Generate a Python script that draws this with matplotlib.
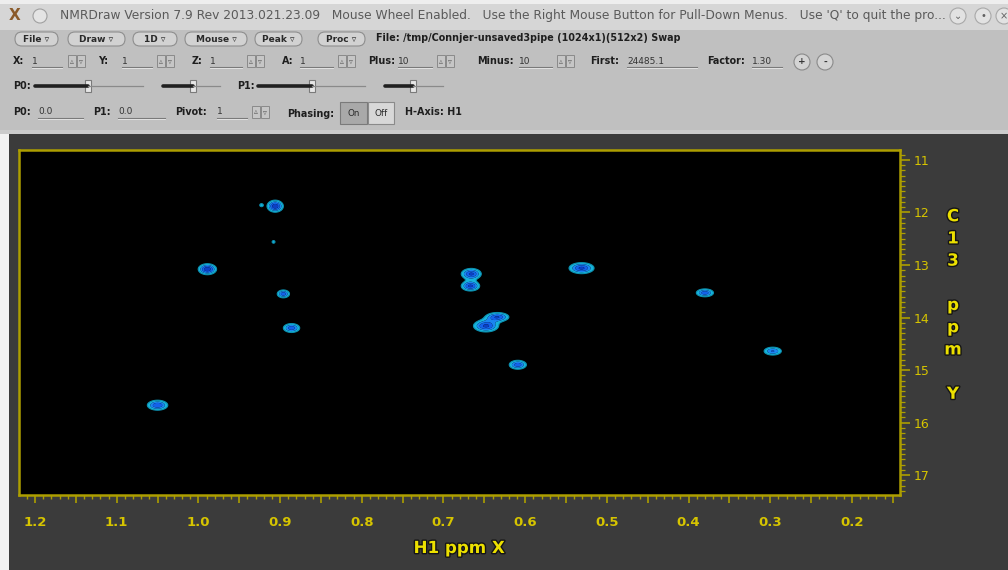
"""NMRDraw 截图复刻：H1-C13 二维谱（等高线）+ 工具栏外观。"""
import matplotlib
matplotlib.use("Agg")
import matplotlib.pyplot as plt  # noqa: E402
import matplotlib.patheffects as pe  # noqa: E402
import numpy as np  # noqa: E402
from matplotlib.patches import Rectangle, FancyBboxPatch, Circle  # noqa: E402
from matplotlib.ticker import MultipleLocator, FuncFormatter  # noqa: E402

W, H = 1008, 570

# --------------------------------------------------------------------------- #
# 峰表：H1 ppm, C13 ppm, 外圈宽度 (ppm), 相对强度
# --------------------------------------------------------------------------- #
peak_h1 = [0.906, 0.989, 0.896, 0.886, 1.050, 0.666, 0.667, 0.634, 0.648,
           0.609, 0.531, 0.380, 0.297, 0.923, 0.908]
peak_c13 = [11.88, 13.08, 13.55, 14.20, 15.67, 13.17, 13.40, 13.99, 14.16,
            14.90, 13.06, 13.53, 14.64, 11.86, 12.56]
peak_wh1 = [0.0200, 0.0225, 0.0150, 0.0200, 0.0250, 0.0245, 0.0225, 0.0280,
            0.0306, 0.0210, 0.0306, 0.0210, 0.0210, 0.0035, 0.0035]
peak_wc13 = [0.23, 0.21, 0.15, 0.17, 0.19, 0.21, 0.19, 0.17, 0.23,
             0.17, 0.21, 0.15, 0.15, 0.05, 0.05]
peak_amp = [1.0, 1.0, 0.8, 0.8, 0.85, 0.9, 0.9, 0.85, 0.9,
            0.8, 0.9, 0.8, 0.7, 0.4, 0.4]

x_ticks_major = 0.05
x_ticks_minor = 0.01
h1_lim = (1.2196, 0.1412)
c13_lim = (17.38, 10.81)

title_text = ("NMRDraw Version 7.9 Rev 2013.021.23.09   Mouse Wheel Enabled.   "
              "Use the Right Mouse Button for Pull-Down Menus.   Use 'Q' to quit the pro...")
menus = ["File", "Draw", "1D", "Mouse", "Peak", "Proc"]
file_text = "File: /tmp/Connjer-unsaved3pipe (1024x1)(512x2) Swap"

fig = plt.figure(figsize=(W / 100, H / 100), dpi=100)
bg = fig.add_axes([0, 0, 1, 1])
bg.set_xlim(0, W)
bg.set_ylim(H, 0)
bg.axis("off")

# 窗口底色
bg.add_patch(Rectangle((0, 0), W, 30, fc="#d6d6d6", ec="none"))
bg.add_patch(Rectangle((0, 0), W, 4, fc="#eeeeee", ec="none"))
bg.add_patch(Rectangle((0, 30), W, 101, fc="#c0c0c0", ec="none"))
bg.add_patch(Rectangle((0, 130), W, 5, fc="#cbcbcb", ec="none"))
bg.add_patch(Rectangle((0, 134), 9, H - 134, fc="#f2f2f2", ec="none"))
bg.add_patch(Rectangle((9, 134), W - 9, H - 134, fc="#3b3b3b", ec="none"))

# 标题栏
bg.text(15, 16, "X", color="#8a5a2a", fontsize=11, fontweight="bold",
        ha="center", va="center")
bg.add_patch(Circle((40, 16), 7, fc="#e4e4e4", ec="#a0a0a0", lw=0.8))
bg.text(60, 16, title_text, color="#5a5a5a", fontsize=8.8, va="center")
for cx, g in [(958, "⌄"), (983, "•"), (1004, "×")]:
    bg.add_patch(Circle((cx, 16), 8, fc="#e2e2e2", ec="#a8a8a8", lw=0.8))
    bg.text(cx, 16, g, color="#606060", fontsize=7, ha="center", va="center")


def label(x, y, s, **kw):
    bg.text(x, y, s, fontsize=6.9, fontweight="bold", color="#1e1e1e",
            va="center", **kw)


def field(x0, x1, y, s):
    bg.text(x0, y, s, fontsize=6.5, color="#333333", va="center")
    bg.plot([x0, x1], [y + 6, y + 6], color="#7a7a7a", lw=0.8)
    bg.plot([x0, x1], [y + 7, y + 7], color="#e8e8e8", lw=0.6)


def spin(x, y):
    for i, g in enumerate(["▵", "▿"]):
        bg.add_patch(Rectangle((x + i * 9, y - 6), 8, 12, fc="#c6c6c6",
                               ec="#8a8a8a", lw=0.7))
        bg.text(x + i * 9 + 4, y, g, fontsize=5.5, color="#606060",
                ha="center", va="center")


def slider(x0, xk, x1, y):
    bg.plot([x0, xk], [y, y], color="#202020", lw=2.6, solid_capstyle="round")
    bg.plot([xk, x1], [y, y], color="#8a8a8a", lw=0.9)
    bg.add_patch(Rectangle((xk - 3, y - 6), 6, 12, fc="#e6e6e6", ec="#7a7a7a",
                           lw=0.8))


# 第 1 行：菜单按钮
menu_x = [(15, 58), (68, 125), (133, 177), (185, 247), (255, 302), (318, 365)]
for (x0, x1), m in zip(menu_x, menus):
    bg.add_patch(FancyBboxPatch((x0, 32), x1 - x0, 14,
                                boxstyle="round,pad=0,rounding_size=7",
                                fc="#d2d2d2", ec="#8e8e8e", lw=0.8))
    bg.text((x0 + x1) / 2, 39, f"{m} ▿", fontsize=6.5, fontweight="bold",
            color="#2a2a2a", ha="center", va="center")
label(376, 38, file_text)

# 第 2 行
y2 = 61
row2 = [("X:", 13, 32, 62, "1", 68), ("Y:", 98, 122, 152, "1", 157),
        ("Z:", 192, 210, 242, "1", 247), ("A:", 282, 300, 333, "1", 338),
        ("Plus:", 368, 398, 432, "10", 437), ("Minus:", 477, 519, 552, "10", 557)]
for name, lx, fx0, fx1, val, sx in row2:
    label(lx, y2, name)
    field(fx0, fx1, y2, val)
    spin(sx, y2)
label(590, y2, "First:")
field(627, 697, y2, "24485.1")
label(707, y2, "Factor:")
field(752, 782, y2, "1.30")
for cx, g in [(802, "+"), (825, "-")]:
    bg.add_patch(Circle((cx, y2 + 1), 8, fc="#d4d4d4", ec="#8a8a8a", lw=0.8))
    bg.text(cx, y2 + 1, g, fontsize=6.5, fontweight="bold", color="#333333",
            ha="center", va="center")

# 第 3 行：相位滑块
y3 = 86
label(13, y3, "P0:")
slider(35, 88, 143, y3)
slider(163, 193, 220, y3)
label(237, y3, "P1:")
slider(258, 312, 365, y3)
slider(385, 413, 443, y3)

# 第 4 行
y4 = 112
label(13, y4, "P0:")
field(38, 83, y4, "0.0")
label(93, y4, "P1:")
field(118, 165, y4, "0.0")
label(175, y4, "Pivot:")
field(217, 247, y4, "1")
spin(252, y4)
label(287, y4 + 2, "Phasing:")
bg.add_patch(Rectangle((340, 102), 27, 22, fc="#a9a9a9", ec="#7a7a7a", lw=0.8))
bg.add_patch(Rectangle((368, 102), 26, 22, fc="#d8d8d8", ec="#8a8a8a", lw=0.8))
bg.text(353.5, 114, "On", fontsize=6.3, color="#2a2a2a", ha="center", va="center")
bg.text(381, 114, "Off", fontsize=6.3, color="#2a2a2a", ha="center", va="center")
label(405, y4, "H-Axis: H1")

# --------------------------------------------------------------------------- #
# 谱图
# --------------------------------------------------------------------------- #
ax = fig.add_axes([19 / W, 1 - 495 / H, (900 - 19) / W, (495 - 150) / H])
ax.set_facecolor("black")

hx = np.linspace(h1_lim[1], h1_lim[0], 1800)
cy = np.linspace(c13_lim[1], c13_lim[0], 900)
HX, CY = np.meshgrid(hx, cy)
Z = np.zeros_like(HX)
thr = 0.3
for h, c, wh, wc, a in zip(peak_h1, peak_c13, peak_wh1, peak_wc13, peak_amp):
    k = np.sqrt(2 * np.log(a / thr))
    sx = wh / 2 / k
    sy = wc / 2 / k
    Z += a * np.exp(-0.5 * (((HX - h) / sx) ** 2 + ((CY - c) / sy) ** 2))

ax.contourf(HX, CY, Z, levels=[thr, 0.5, 0.68, 0.85, 10],
            colors=["#16b4dc", "#1a86f0", "#1462ea", "#0c40c4"], antialiased=True)
ax.contour(HX, CY, Z, levels=[thr], colors="#0c90b0", linewidths=0.8)

ax.set_xlim(*h1_lim)
ax.set_ylim(*c13_lim)

frame_c = "#ad9e00"
label_c = "#d6c400"
for s in ax.spines.values():
    s.set_color(frame_c)
    s.set_linewidth(1.8)

ax.xaxis.set_major_locator(MultipleLocator(x_ticks_major))
ax.xaxis.set_minor_locator(MultipleLocator(x_ticks_minor))
ax.xaxis.set_major_formatter(FuncFormatter(
    lambda v, p: f"{v:.1f}" if abs(round(v * 10) - v * 10) < 1e-6 else ""))
ax.tick_params(axis="x", which="major", direction="out", length=6, width=1.2,
               color=frame_c, labelcolor=label_c, labelsize=9.5, pad=9)
ax.tick_params(axis="x", which="minor", direction="out", length=3, width=1.0,
               color=frame_c)
for t in ax.get_xticklabels():
    t.set_fontweight("bold")

ax.yaxis.tick_right()
ax.yaxis.set_major_locator(MultipleLocator(1))
ax.yaxis.set_minor_locator(MultipleLocator(0.1))
ax.yaxis.set_major_formatter(FuncFormatter(lambda v, p: f"{v:.0f}"))
ax.tick_params(axis="y", which="major", direction="out", length=7, width=1.2,
               color=frame_c, labelcolor=label_c, labelsize=9, pad=3,
               left=False, right=True)
ax.tick_params(axis="y", which="minor", direction="out", length=3.5, width=0.9,
               color=frame_c, left=False, right=True)

shadow = [pe.withStroke(linewidth=2, foreground="#151515")]
bg.text(459, 548, "H1 ppm X", color="#ece000", fontsize=12, fontweight="bold",
        ha="center", va="center", path_effects=shadow)
bg.text(953, 305, "C\n1\n3\n\np\np\nm\n\nY", color="#ece000", fontsize=12,
        fontweight="bold", ha="center", va="center", linespacing=1.3,
        multialignment="center", path_effects=shadow)

fig.savefig("out.png", dpi=100)
